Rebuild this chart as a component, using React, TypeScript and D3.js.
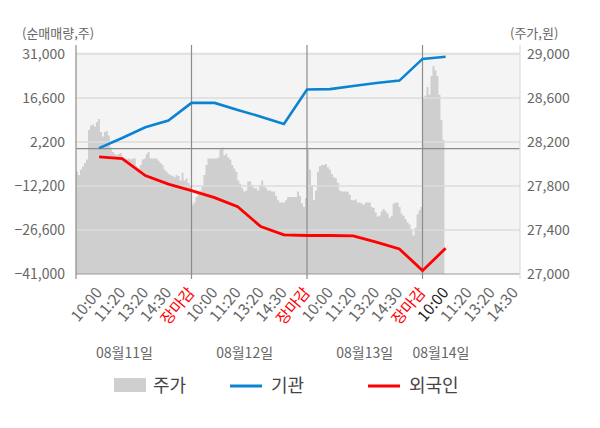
import { useEffect, useRef } from "react";
import * as d3 from "d3";

// x tick labels, repeated per trading day
const timeLabels = ["10:00", "11:20", "13:20", "14:30", "장마감"];
const dayLabels = ["08월11일", "08월12일", "08월13일", "08월14일"];
const dayLabelSlots = [2.1, 7.3, 12.5, 15.8];

const volumeTicks = [-41000, -26600, -12200, 2200, 16600, 31000];
const priceTicks = [27000, 27400, 27800, 28200, 28600, 29000];

// cumulative net buying (shares), one value per labelled time, from 08/11 10:00
const institution = [200, 3500, 7000, 9200, 15000, 15000, 12700, 10500, 8100, 19400, 19500, 20500, 21500, 22300, 29400, 30100];
const foreign = [-2700, -3200, -8800, -11600, -13700, -16000, -19000, -25500, -28200, -28400, -28400, -28500, -30600, -32800, -39900, -32600];

// intraday price (won)
const priceDay1 = [
	27930, 27900, 27950, 27980, 28010, 28040, 28310, 28350, 28360, 28340, 28380, 28410, 28290, 28250, 28290, 28300, 28260, 28150, 28110, 28090,
	28080, 28090, 28100, 28060, 28050, 28040, 28050, 28040, 28050, 28050, 27980, 27960, 27990, 28040, 28050, 28090, 28110, 28050, 28050, 28050,
	28050, 28030, 28010, 27990, 27950, 27930, 27910, 27900, 27890, 27880, 27900, 27890, 27850, 27920, 27850, 27870, 27830, 27810,
];
const priceDay2 = [
	27630, 27650, 27700, 27730, 27760, 27790, 27900, 27990, 28050, 28050, 28050, 28050, 28050, 28060, 28130, 28150, 28080, 28090, 28060, 28040,
	27990, 27960, 27930, 27850, 27820, 27780, 27750, 27760, 27840, 27840, 27810, 27780, 27780, 27760, 27810, 27850, 27800, 27780, 27760, 27760,
	27750, 27750, 27710, 27670, 27650, 27650, 27650, 27670, 27700, 27700, 27700, 27700, 27700, 27750, 27710, 27640, 27610, 27690,
];
const priceDay3 = [
	28130, 27950, 27810, 27670, 27760, 27930, 27980, 27990, 27990, 28000, 27970, 27950, 27910, 27880, 27870, 27830, 27760, 27750, 27750, 27750,
	27750, 27720, 27670, 27670, 27680, 27650, 27650, 27640, 27630, 27650, 27650, 27650, 27610, 27600, 27560, 27520, 27530, 27570, 27590, 27570,
	27550, 27510, 27530, 27640, 27650, 27650, 27610, 27550, 27530, 27500, 27470, 27450, 27400, 27350, 27420, 27540, 27580, 27610,
];
const priceDay4 = [28600, 28620, 28700, 28630, 28800, 28890, 28850, 28800, 28630, 28400, 28220, 28200];

const priceDays = [priceDay1, priceDay2, priceDay3, priceDay4];

function App() {
	const ref = useRef<SVGSVGElement>(null);

	useEffect(() => {
		drawChart();
	}, []);

	function drawChart() {
		const svg = d3.select(ref.current);
		svg.selectAll("*").remove();

		const left = 76;
		const right = 520;
		const top = 54;
		const bottom = 274;
		const font = "'Noto Sans CJK KR', 'Noto Sans', sans-serif";

		const x = d3.scaleLinear().domain([0, 19.22]).range([left, right]);
		const yVol = d3.scaleLinear().domain([-41000, 31000]).range([bottom, top]);
		const yPrice = d3.scaleLinear().domain([27000, 29000]).range([bottom, top]);

		// plot background
		svg.append("rect")
			.attr("x", left)
			.attr("y", top - 2)
			.attr("width", right - left)
			.attr("height", bottom - top + 2)
			.attr("fill", "#f4f4f4");

		// price area, samples spread evenly over each day (5 slots per day)
		const step = 5 / 58;
		const pricePoints = priceDays.flatMap((arr, d) => arr.map((p, i) => ({ s: 5 * d + i * step, p })));
		const area = d3
			.area<{ s: number; p: number }>()
			.x((d) => x(d.s))
			.y0(bottom)
			.y1((d) => yPrice(d.p))
			.curve(d3.curveStepAfter);
		svg.append("path").datum(pricePoints).attr("d", area).attr("fill", "#cfcfcf");

		// horizontal grid
		svg.append("g")
			.selectAll("line")
			.data(volumeTicks.slice(1))
			.join("line")
			.attr("x1", left)
			.attr("x2", right)
			.attr("y1", (d) => yVol(d))
			.attr("y2", (d) => yVol(d))
			.attr("stroke", "#dddddd")
			.attr("stroke-width", 1.5);

		// zero line
		svg.append("line")
			.attr("x1", left)
			.attr("x2", right)
			.attr("y1", yVol(0))
			.attr("y2", yVol(0))
			.attr("stroke", "#8c8c8c")
			.attr("stroke-width", 1.2);

		// bottom axis
		svg.append("line")
			.attr("x1", left)
			.attr("x2", right)
			.attr("y1", bottom)
			.attr("y2", bottom)
			.attr("stroke", "#999999")
			.attr("stroke-width", 1.2);

		// day separators + left axis
		svg.append("g")
			.selectAll("line")
			.data([0, 5, 10, 15])
			.join("line")
			.attr("x1", (d) => x(d))
			.attr("x2", (d) => x(d))
			.attr("y1", 45)
			.attr("y2", bottom + 5)
			.attr("stroke", "#8c8c8c")
			.attr("stroke-width", 1.2);

		// right edge
		svg.append("line")
			.attr("x1", right)
			.attr("x2", right)
			.attr("y1", 45)
			.attr("y2", bottom + 5)
			.attr("stroke", "#dddddd")
			.attr("stroke-width", 1.2);

		// net buying lines
		const line = d3
			.line<number>()
			.x((_, i) => x(i + 1))
			.y((d) => yVol(d));

		svg.append("path")
			.datum(institution)
			.attr("d", line)
			.attr("fill", "none")
			.attr("stroke", "#0a84d2")
			.attr("stroke-width", 2.6);

		svg.append("path")
			.datum(foreign)
			.attr("d", line)
			.attr("fill", "none")
			.attr("stroke", "#ff0000")
			.attr("stroke-width", 2.8);

		// left axis labels
		svg.append("g")
			.selectAll("text")
			.data(volumeTicks)
			.join("text")
			.attr("x", 65)
			.attr("y", (d) => yVol(d))
			.attr("dy", "0.35em")
			.attr("text-anchor", "end")
			.attr("font-family", font)
			.attr("font-size", 14)
			.attr("fill", "#666")
			.text((d) => d3.format(",")(d));

		// right axis labels
		svg.append("g")
			.selectAll("text")
			.data(priceTicks)
			.join("text")
			.attr("x", 527)
			.attr("y", (d) => yPrice(d))
			.attr("dy", "0.35em")
			.attr("font-family", font)
			.attr("font-size", 14)
			.attr("fill", "#666")
			.text((d) => d3.format(",")(d));

		// unit labels
		svg.append("text")
			.attr("x", 22)
			.attr("y", 38)
			.attr("font-family", font)
			.attr("font-size", 13)
			.attr("fill", "#666")
			.text("(순매매량,주)");
		svg.append("text")
			.attr("x", 510)
			.attr("y", 38)
			.attr("font-family", font)
			.attr("font-size", 13)
			.attr("fill", "#666")
			.text("(주가,원)");

		// x tick labels
		const ticks = dayLabels
			.flatMap((_, d) => timeLabels.map((t, j) => ({ s: 5 * d + j + 1, t, d })))
			.filter((d) => d.s <= 19);

		svg.append("g")
			.selectAll("text")
			.data(ticks)
			.join("text")
			.attr("transform", (d) => `translate(${x(d.s) + 4}, 293) rotate(-50)`)
			.attr("text-anchor", "end")
			.attr("font-family", font)
			.attr("font-size", 15.5)
			.attr("fill", (d) => (d.t === "장마감" ? "#ff0000" : d.d === 3 && d.t === "10:00" ? "#222" : "#666"))
			.text((d) => d.t);

		// day labels
		svg.append("g")
			.selectAll("text")
			.data(dayLabels)
			.join("text")
			.attr("x", (_, i) => x(dayLabelSlots[i]))
			.attr("y", 358)
			.attr("text-anchor", "middle")
			.attr("font-family", font)
			.attr("font-size", 14)
			.attr("fill", "#666")
			.text((d) => d);

		// legend
		const legend = svg.append("g").attr("font-family", font).attr("font-size", 18).attr("fill", "#444");
		legend.append("rect").attr("x", 114).attr("y", 378).attr("width", 32).attr("height", 14).attr("fill", "#cfcfcf");
		legend.append("text").attr("x", 153).attr("y", 392).text("주가");
		legend.append("line").attr("x1", 230).attr("x2", 262).attr("y1", 386).attr("y2", 386).attr("stroke", "#0a84d2").attr("stroke-width", 3);
		legend.append("text").attr("x", 271).attr("y", 392).text("기관");
		legend.append("line").attr("x1", 368).attr("x2", 400).attr("y1", 386).attr("y2", 386).attr("stroke", "#ff0000").attr("stroke-width", 3);
		legend.append("text").attr("x", 409).attr("y", 392).text("외국인");
	}

	return <svg ref={ref} width={600} height={428} style={{ position: "absolute", left: 0, top: 0, background: "#fff" }} />;
}

export default App;
